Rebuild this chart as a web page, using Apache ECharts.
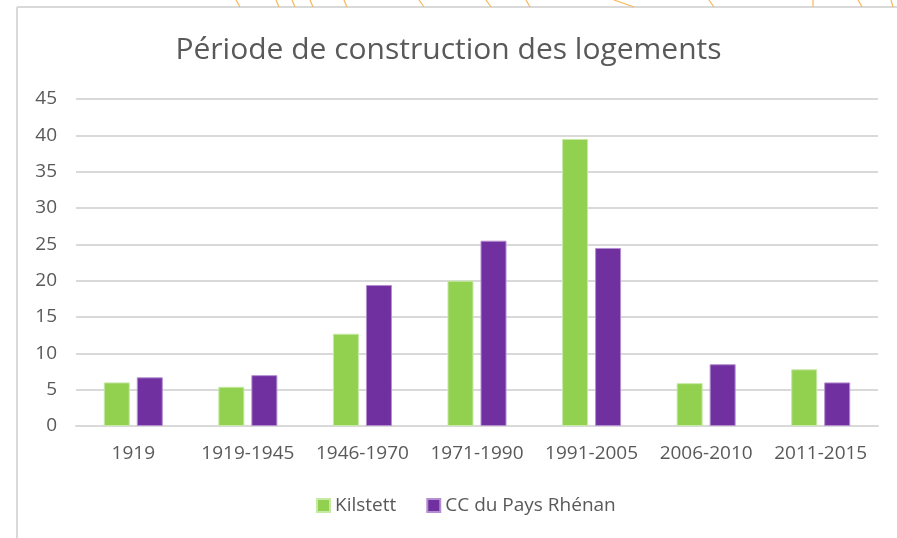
<!DOCTYPE html>
<html>
<head>
<meta charset="utf-8">
<script src="https://cdn.jsdelivr.net/npm/echarts@6/dist/echarts.min.js"></script>
<style>
  html, body { margin: 0; padding: 0; background: #fff; }
  #chart { width: 897px; height: 538px; }
</style>
</head>
<body>
<div id="chart"></div>
<script>
// Housing construction periods, share of dwellings (%)
const categories = ['1919', '1919-1945', '1946-1970', '1971-1990', '1991-2005', '2006-2010', '2011-2015'];
const kilstett = [6.0, 5.4, 12.7, 20.0, 39.5, 5.9, 7.8];
const ccPaysRhenan = [6.7, 7.0, 19.4, 25.5, 24.5, 8.5, 6.0];
const seriesNames = ['Kilstett', 'CC du Pays Rhénan'];
const titleText = 'Période de construction des logements';

const FONT = 'Open Sans';
const TEXT = '#595959';
const GRID = '#d9d9d9';

// Thin orange strokes peeking above the frame (background decoration)
const decoStrokes = [
  [[236, 0], [240, 7]], [[276, 0], [279, 7]], [[292, 0], [295, 7]], [[310, 0], [313, 7]],
  [[344, 0], [347, 7]], [[419, 0], [424, 7]], [[486, 0], [491, 7]], [[526, 0], [530, 7]],
  [[614, 0], [634, 7]], [[709, 0], [714, 7]], [[813, 0], [813, 7]], [[858, 0], [862, 7]],
  [[891, 0], [893, 7]]
];

const chart = echarts.init(document.getElementById('chart'), null, { renderer: 'canvas' });

chart.setOption({
  backgroundColor: '#ffffff',
  animation: false,
  textStyle: { fontFamily: FONT },
  title: {
    text: titleText,
    left: 'center',
    top: 30,
    textStyle: { fontFamily: FONT, fontSize: 30, fontWeight: 'normal', color: TEXT }
  },
  legend: {
    data: seriesNames,
    bottom: 18,
    left: 311,
    itemWidth: 13,
    itemHeight: 13,
    itemGap: 30,
    icon: 'rect',
    textStyle: { fontFamily: FONT, fontSize: 19, color: TEXT }
  },
  grid: { left: 76, right: 19, top: 99, bottom: 112, containLabel: false },
  xAxis: {
    type: 'category',
    data: categories,
    axisLine: { lineStyle: { color: GRID, width: 2 } },
    axisTick: { show: false },
    axisLabel: { fontFamily: FONT, fontSize: 19, color: TEXT, margin: 18, interval: 0 }
  },
  yAxis: {
    type: 'value',
    min: 0,
    max: 45,
    interval: 5,
    axisLine: { show: false },
    axisTick: { show: false },
    axisLabel: { fontFamily: FONT, fontSize: 19, color: TEXT, margin: 19 },
    splitLine: { lineStyle: { color: GRID, width: 2 } }
  },
  series: [
    {
      name: seriesNames[0],
      type: 'bar',
      data: kilstett,
      barWidth: 26,
      barGap: '27%',
      itemStyle: { color: '#92d050', borderColor: '#c7e9a6', borderWidth: 1 }
    },
    {
      name: seriesNames[1],
      type: 'bar',
      data: ccPaysRhenan,
      barWidth: 26,
      barGap: '27%',
      itemStyle: { color: '#7030a0', borderColor: '#b48fd0', borderWidth: 1 }
    }
  ],
  graphic: [
    // chart frame
    { type: 'line', shape: { x1: 17, y1: 7, x2: 897, y2: 7 }, style: { stroke: GRID, lineWidth: 2 } },
    { type: 'line', shape: { x1: 17, y1: 7, x2: 17, y2: 538 }, style: { stroke: GRID, lineWidth: 2 } }
  ].concat(decoStrokes.map(s => ({
    type: 'line',
    shape: { x1: s[0][0], y1: s[0][1], x2: s[1][0], y2: s[1][1] },
    style: { stroke: '#f7b756', lineWidth: 1.2 }
  })))
});
</script>
</body>
</html>
